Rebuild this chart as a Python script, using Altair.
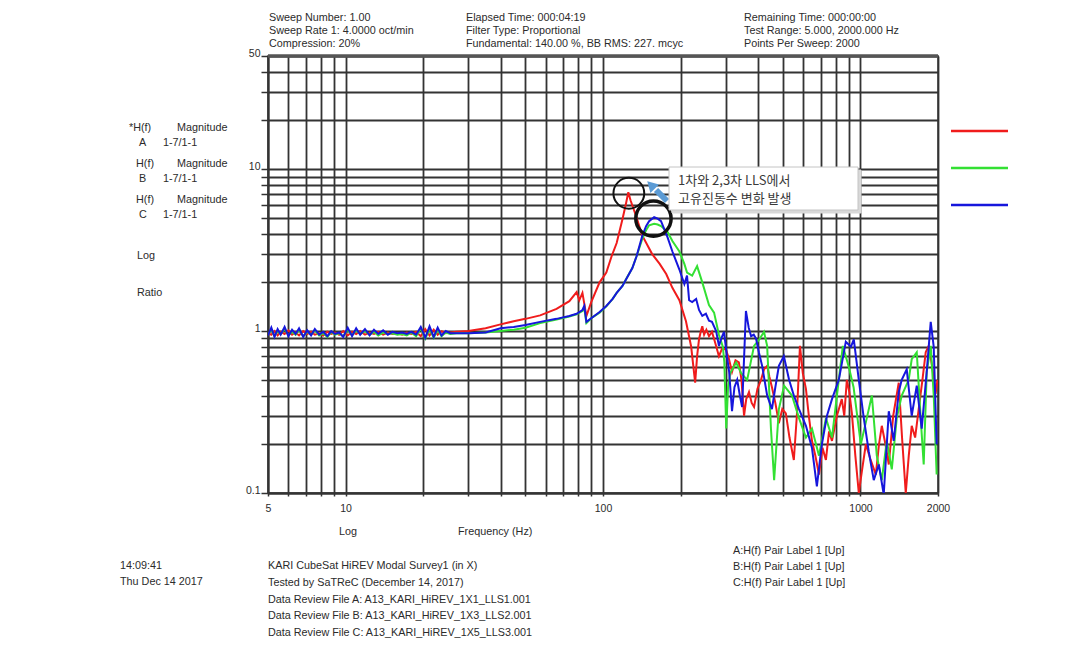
import altair as alt
import pandas as pd

FONT = "Liberation Sans"
KFONT = "Noto Sans CJK KR"

# ---------------- data ----------------
LOW_F = [5.0, 5.15, 5.3, 5.45, 5.6, 5.8, 6.0, 6.2, 6.4, 6.6, 6.85, 7.1, 7.35, 7.6, 7.9,
         8.2, 8.5, 8.8, 9.1, 9.45, 9.8, 10.2, 10.6, 11.0, 11.4, 11.9, 12.4, 12.9, 13.4, 14.0,
         14.6, 15.2, 15.9, 16.6, 17.3, 18.0, 18.8, 19.6, 20.4, 21.2, 22.0, 22.8, 23.6, 24.5, 25.5]
A_LOW = [0.97, 0.95, 1.0, 0.94, 0.99, 0.96, 1.01, 0.95, 0.98, 0.94, 1.0, 0.96, 0.99, 0.95, 0.97,
         0.94, 0.99, 0.96, 0.98, 0.95, 1.0, 0.94, 0.99, 0.96, 1.0, 0.95, 0.98, 0.96, 0.99, 0.95,
         0.98, 0.96, 0.97, 0.95, 0.98, 0.96, 0.99, 0.93, 1.03, 0.94, 1.02, 0.95, 1.0, 0.97, 0.98]
B_LOW = [0.95, 1.02, 0.93, 1.0, 0.96, 1.03, 0.94, 0.99, 0.95, 1.02, 0.93, 0.99, 0.95, 1.01, 0.94,
         0.97, 0.92, 0.99, 0.95, 0.97, 0.93, 1.02, 0.94, 1.01, 0.96, 1.0, 0.95, 0.99, 0.94, 0.98,
         0.96, 0.97, 0.95, 0.96, 0.94, 0.98, 0.93, 1.04, 0.9, 1.03, 0.91, 1.02, 0.93, 0.98, 0.96]
C_LOW = [0.94, 1.05, 0.92, 1.03, 0.95, 1.06, 0.93, 1.02, 0.96, 1.04, 0.92, 1.01, 0.94, 1.03, 0.95,
         0.99, 0.93, 1.0, 0.96, 0.98, 0.92, 1.05, 0.93, 1.04, 0.95, 1.03, 0.94, 1.02, 0.96, 1.01,
         0.95, 0.99, 0.97, 0.98, 0.96, 0.99, 0.95, 1.06, 0.91, 1.07, 0.92, 1.05, 0.94, 1.0, 0.97]

# A (red)
A_MID_F = [27, 30, 35, 40, 45, 50, 57, 66, 74, 79,
           80.9, 83.2, 86.2, 90, 97, 103, 108, 113, 119, 123,
           125.4, 128, 134.6, 142, 155, 166, 176, 186, 198, 210,
           220]
A_MID_V = [0.99, 1.0, 1.04, 1.1, 1.15, 1.19, 1.25, 1.37, 1.53, 1.74,
           1.55, 1.72, 1.24, 1.51, 2.0, 2.3, 2.9, 3.5, 4.9, 6.2,
           7.2, 6.4, 5.1, 3.9, 3.0, 2.6, 2.25, 1.85, 1.55, 1.15,
           0.8]
A_HI_F = [228, 232, 236, 240, 243, 247, 252, 258, 265, 272,
          282, 290, 300, 308, 317, 327, 337, 345, 353, 360,
          369, 378, 386, 398, 411, 422, 434, 443, 453, 467,
          482, 497, 513, 530, 551, 566, 582, 597, 614, 630,
          648, 668, 690, 712, 734, 755, 775, 810, 846, 865,
          885, 905, 926, 955, 985, 1015, 1049, 1095, 1147, 1180,
          1210, 1250, 1288, 1340, 1408, 1450, 1499, 1540, 1581, 1630,
          1683, 1740, 1792, 1840, 1900, 1958, 1990]
A_HI_V = [0.48, 0.7, 0.89, 1.0, 1.07, 0.95, 1.02, 0.93, 0.99, 0.86,
          0.70, 0.78, 0.77, 0.68, 0.56, 0.66, 0.64, 0.5, 0.30, 0.38,
          0.42, 0.36, 0.34, 0.44, 0.5, 0.58, 0.61, 0.52, 0.45, 0.36,
          0.27, 0.33, 0.31, 0.22, 0.16, 0.3, 0.81, 0.55, 0.44, 0.3,
          0.21, 0.17, 0.13, 0.19, 0.16, 0.24, 0.21, 0.3, 0.38, 0.3,
          0.5, 0.42, 0.31, 0.17, 0.1, 0.14, 0.2, 0.16, 0.13, 0.2,
          0.26, 0.2, 0.15, 0.3, 0.48, 0.22, 0.1, 0.17, 0.26, 0.22,
          0.33, 0.5, 0.74, 0.81, 0.6, 0.41, 0.5]

# B (green)
B_MID_F = [27, 30, 35, 40, 45, 50, 57, 66, 74, 79,
           83.2, 84.6, 86.2, 90, 97, 103, 109, 113, 119, 123,
           130, 135, 142, 147, 151, 158, 163, 168]
B_MID_V = [0.97, 0.97, 0.98, 1.0, 1.02, 1.05, 1.12, 1.18, 1.23, 1.27,
           1.33, 1.38, 1.12, 1.2, 1.3, 1.42, 1.58, 1.72, 1.9, 2.1,
           2.45, 2.9, 3.7, 4.2, 4.5, 4.6, 4.55, 4.45]
B_HI_F = [178, 186, 198, 207, 212, 222, 232, 243, 258, 270,
          282, 292, 296, 301, 306, 312, 329, 344, 363, 386,
          405, 422, 434, 449, 462, 482, 505, 542, 577, 614,
          648, 690, 734, 775, 810, 854, 901, 940, 1003, 1058,
          1107, 1157, 1210, 1265, 1323, 1383, 1446, 1539, 1581, 1654,
          1713, 1760, 1808, 1874, 1925, 1976]
B_HI_V = [4.1, 3.6, 3.1, 2.6, 2.3, 2.2, 2.52, 2.0, 1.45, 1.3,
          0.95, 0.8, 0.64, 0.25, 0.45, 0.55, 0.64, 0.55, 0.5, 0.81,
          0.89, 0.99, 0.81, 0.25, 0.12, 0.33, 0.46, 0.4, 0.29, 0.22,
          0.25, 0.17, 0.29, 0.22, 0.4, 0.81, 0.6, 0.45, 0.2, 0.29,
          0.4, 0.17, 0.12, 0.21, 0.14, 0.29, 0.4, 0.5, 0.67, 0.74,
          0.29, 0.15, 0.56, 0.81, 0.4, 0.13]

# C (blue)
C_MID_F = [27, 30, 35, 40, 45, 50, 57, 66, 74, 79,
           83.2, 84.6, 86.2, 90, 97, 103, 109, 113, 119, 123,
           130, 135, 142, 147, 151, 158, 163]
C_MID_V = [0.97, 0.97, 0.98, 1.04, 1.06, 1.09, 1.14, 1.19, 1.24, 1.28,
           1.35, 1.43, 1.14, 1.2, 1.31, 1.43, 1.58, 1.72, 1.9, 2.09,
           2.45, 2.9, 3.86, 4.45, 4.77, 5.05, 4.95]
C_HI_F = [168, 178, 186, 198, 207, 212, 216, 222, 230, 236,
          243, 251, 258, 265, 275, 282, 288, 295, 303, 309,
          317, 324, 332, 340, 347, 359, 368, 376, 385, 393,
          403, 415, 434, 453, 467, 482, 504, 528, 551, 577,
          614, 648, 677, 708, 741, 775, 824, 877, 918, 942,
          985, 1030, 1077, 1126, 1178, 1231, 1288, 1346, 1408, 1446,
          1512, 1581, 1654, 1729, 1808, 1874, 1925, 1976]
C_HI_V = [4.77, 3.8, 3.1, 2.4, 1.95, 2.2, 1.55, 1.51, 1.58, 1.35,
          1.24, 1.28, 1.16, 1.14, 1.0, 0.81, 0.9, 0.99, 0.7, 0.56,
          0.32, 0.45, 0.5, 0.4, 0.34, 1.33, 1.05, 0.93, 0.95, 0.9,
          0.74, 0.61, 0.40, 0.33, 0.45, 0.61, 0.70, 0.5, 0.40, 0.33,
          0.26, 0.19, 0.11, 0.2, 0.30, 0.38, 0.5, 0.86, 0.8, 0.89,
          0.5, 0.29, 0.18, 0.12, 0.15, 0.098, 0.32, 0.21, 0.42, 0.5,
          0.58, 0.3, 0.46, 0.25, 0.56, 1.14, 0.8, 0.2]

COLORS = ["#f01c1c", "#33e033", "#1616dc"]

X_TICKS = [5, 6, 7, 8, 9, 10, 20, 30, 40, 50, 60, 70, 80, 90, 100, 200, 300, 400, 500, 600, 700,
           800, 900, 1000, 2000]
X_LABELED = [5, 10, 100, 1000, 2000]
Y_TICKS = [0.1, 0.2, 0.3, 0.4, 0.5, 0.6, 0.7, 0.8, 0.9, 1, 2, 3, 4, 5, 6, 7, 8, 9, 10, 20, 30, 40, 50]
Y_LABELED = [0.1, 1, 10, 50]

HEADER_1 = ["Sweep Number: 1.00", "Sweep Rate 1: 4.0000 oct/min", "Compression:  20%"]
HEADER_2 = ["Elapsed Time: 000:04:19", "Filter Type: Proportional",
            "Fundamental: 140.00 %, BB RMS: 227. mcyc"]
HEADER_3 = ["Remaining Time: 000:00:00", "Test Range:  5.000, 2000.000 Hz", "Points Per Sweep: 2000"]
LEFT_H = ["*H(f)", "H(f)", "H(f)"]
LEFT_ID = ["A", "B", "C"]
FOOT_TIME = ["14:09:41", "Thu Dec 14 2017"]
FOOT_MAIN = ["KARI CubeSat HiREV Modal Survey1 (in X)", "Tested by SaTReC (December 14, 2017)",
             "Data Review File A: A13_KARI_HiREV_1X1_LLS1.001",
             "Data Review File B: A13_KARI_HiREV_1X3_LLS2.001",
             "Data Review File C: A13_KARI_HiREV_1X5_LLS3.001"]
FOOT_RIGHT = ["A:H(f) Pair Label 1 [Up]", "B:H(f) Pair Label 1 [Up]", "C:H(f) Pair Label 1 [Up]"]
NOTE = ["1차와 2,3차 LLS에서", "고유진동수 변화 발생"]
CIRCLE_F = [126, 157]
CIRCLE_V = [7.1, 4.95]

# ---------------- layout ----------------
W, H = 670, 437
L, T = 268, 56
DUMMY = pd.DataFrame({"d": [0]})
TS = 10.8

xscale = alt.Scale(type="log", domain=[5, 2000], nice=False)
yscale = alt.Scale(type="log", domain=[0.1, 50], nice=False)

x_enc = alt.X("f:Q", scale=xscale, axis=alt.Axis(
    values=X_TICKS, format="d", title="", labelFlush=False,
    labelExpr="indexof(%s, datum.value) >= 0 ? datum.label : ''" % X_LABELED,
    grid=True, tickSize=3, labelPadding=7))
y_enc = alt.Y("v:Q", scale=yscale, axis=alt.Axis(
    values=Y_TICKS, format=".1~f", title="", labelFlush=False,
    labelExpr="indexof(%s, datum.value) >= 0 ? datum.label : ''" % Y_LABELED,
    grid=True, tickSize=7, labelPadding=1, labelBaseline="alphabetic"))


def series(parts, color):
    rows = []
    for fs, vs in parts:
        rows += [{"f": a, "v": b} for a, b in zip(fs, vs)]
    return alt.Chart(pd.DataFrame(rows)).mark_line(
        color=color, strokeWidth=2, clip=True).encode(x=x_enc, y=y_enc)


def txt(s, x, y, size=TS, font=FONT, color="#2b2b2b", align="left"):
    return alt.Chart(DUMMY).mark_text(
        text=s, align=align, baseline="middle", fontSize=size, font=font, color=color
    ).encode(x=alt.value(x - L), y=alt.value(y - T))


def hrule(x1, x2, y, color, width):
    return alt.Chart(DUMMY).mark_rule(color=color, strokeWidth=width).encode(
        x=alt.value(x1 - L), x2=alt.value(x2 - L), y=alt.value(y - T))


layers = [
    series([(LOW_F, A_LOW), (A_MID_F, A_MID_V), (A_HI_F, A_HI_V)], COLORS[0]),
    series([(LOW_F, B_LOW), (B_MID_F, B_MID_V), (B_HI_F, B_HI_V)], COLORS[1]),
    series([(LOW_F, C_LOW), (C_MID_F, C_MID_V), (C_HI_F, C_HI_V)], COLORS[2]),
    hrule(L, L + W, T, "#555555", 3.5),
]

# circles marking the resonance peaks
circ = pd.DataFrame({"f": CIRCLE_F, "v": CIRCLE_V})
layers.append(alt.Chart(circ.iloc[[0]]).mark_point(
    shape="circle", filled=False, size=950, color="#111111", opacity=1, strokeWidth=2).encode(
    x=x_enc, y=y_enc))
layers.append(alt.Chart(circ.iloc[[1]]).mark_point(
    shape="circle", filled=False, size=1250, color="#111111", opacity=1, strokeWidth=3.5).encode(
    x=x_enc, y=y_enc))

# blue callout arrow
layers.append(alt.Chart(DUMMY).mark_rule(color="#5b9bd5", strokeWidth=6).encode(
    x=alt.value(656 - L), y=alt.value(190 - T), x2=alt.value(667 - L), y2=alt.value(201 - T)))
layers.append(alt.Chart(DUMMY).mark_point(
    shape="triangle-up", filled=True, size=150, color="#5b9bd5", opacity=1, angle=315).encode(
    x=alt.value(651 - L), y=alt.value(185 - T)))

# annotation box
layers.append(alt.Chart(DUMMY).mark_rect(fill="#d8d8d8", stroke="#d8d8d8").encode(
    x=alt.value(672 - L), x2=alt.value(861 - L), y=alt.value(170 - T), y2=alt.value(213 - T)))
layers.append(alt.Chart(DUMMY).mark_rect(fill="white", stroke="#c4c4c4", strokeWidth=1).encode(
    x=alt.value(669 - L), x2=alt.value(858 - L), y=alt.value(167 - T), y2=alt.value(210 - T)))
layers.append(txt(NOTE[0], 678, 181, size=13, font=KFONT, color="#3a3a3a"))
layers.append(txt(NOTE[1], 678, 199, size=13, font=KFONT, color="#3a3a3a"))

# header text
for i, s in enumerate(HEADER_1):
    layers.append(txt(s, 269, 18 + 13 * i))
for i, s in enumerate(HEADER_2):
    layers.append(txt(s, 466, 18 + 13 * i))
for i, s in enumerate(HEADER_3):
    layers.append(txt(s, 744, 18 + 13 * i))

# left labels
for i in range(3):
    y0 = 128 + 36 * i
    layers.append(txt(LEFT_H[i], 129 if i == 0 else 136, y0))
    layers.append(txt("Magnitude", 177, y0))
    layers.append(txt(LEFT_ID[i], 139, y0 + 15))
    layers.append(txt("1-7/1-1", 163, y0 + 15))
layers.append(txt("Log", 137, 256))
layers.append(txt("Ratio", 137, 293))

# axis captions
layers.append(txt("Log", 339, 532))
layers.append(txt("Frequency (Hz)", 458, 532))

# footer
for i, s in enumerate(FOOT_TIME):
    layers.append(txt(s, 120, 566 + 16 * i))
for i, s in enumerate(FOOT_MAIN):
    layers.append(txt(s, 268, 566 + 16.8 * i))
for i, s in enumerate(FOOT_RIGHT):
    layers.append(txt(s, 733, 551 + 16 * i))

# legend swatches at the right
for i, c in enumerate(COLORS):
    layers.append(hrule(951, 1008, 131 + 37 * i, c, 2.5))

chart = alt.layer(*layers).properties(
    width=W, height=H,
    autosize=alt.AutoSizeParams(type="none"),
    padding={"left": L, "top": T, "right": 1082 - L - W, "bottom": 652 - T - H},
    background="white",
).configure_view(
    stroke="#333333", strokeWidth=1.5
).configure_axis(
    gridColor="#333333", gridWidth=1.8, gridOpacity=1,
    domainColor="#333333", domainWidth=2,
    tickColor="#333333", tickWidth=1.5,
    labelFont=FONT, labelFontSize=10.5, labelColor="#2b2b2b",
)

chart.save("out.html", embed_options={"renderer": "svg", "actions": False})
